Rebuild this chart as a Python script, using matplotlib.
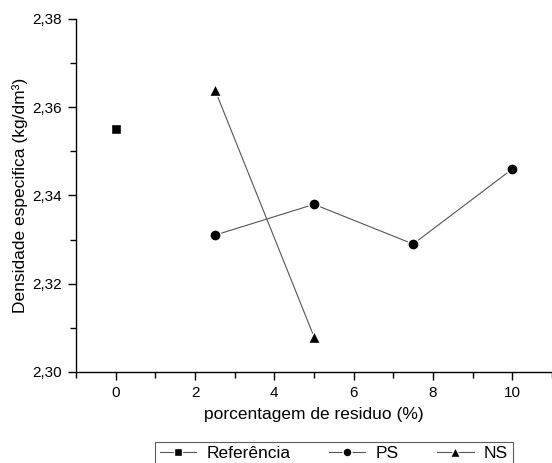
import matplotlib
matplotlib.use('Agg')
import matplotlib.pyplot as plt
from matplotlib.ticker import MultipleLocator, FuncFormatter

# data
ref_x = [0]
ref_y = [2.355]
ps_x = [2.5, 5, 7.5, 10]
ps_y = [2.331, 2.338, 2.329, 2.346]
ns_x = [2.5, 5]
ns_y = [2.364, 2.308]

plt.rcParams['font.family'] = ['Liberation Sans', 'DejaVu Sans']

fig = plt.figure(figsize=(5.52, 4.63), dpi=100)
ax = fig.add_axes([76 / 552, 91 / 463, 1 - 76 / 552, 353 / 463])

line_kw = dict(color='#555555', lw=0.8, mfc='black', mec='white', mew=1.0)
ax.plot(ref_x, ref_y, marker='s', ms=7, label='Referência', **line_kw)
ax.plot(ps_x, ps_y, marker='o', ms=8, label='PS', **line_kw)
ax.plot(ns_x, ns_y, marker='^', ms=8.5, label='NS', **line_kw)

ax.set_xlim(-1, 11)
ax.set_ylim(2.30, 2.38)
ax.xaxis.set_major_locator(MultipleLocator(2))
ax.xaxis.set_minor_locator(MultipleLocator(1))
ax.yaxis.set_major_locator(MultipleLocator(0.02))
ax.yaxis.set_minor_locator(MultipleLocator(0.01))
ax.yaxis.set_major_formatter(FuncFormatter(lambda v, p: ('%.2f' % v).replace('.', ',')))

for s in ['top', 'right']:
    ax.spines[s].set_visible(False)
for s in ['left', 'bottom']:
    ax.spines[s].set_linewidth(1.0)
ax.tick_params(which='major', direction='out', length=6, width=1, labelsize=11, pad=4)
ax.tick_params(which='minor', direction='out', length=4, width=1)

ax.set_xlabel('porcentagem de residuo (%)', fontsize=12.5, labelpad=5)
ax.set_ylabel('Densidade especifica (kg/dm³)', fontsize=12.5, labelpad=3)

leg = fig.legend(loc='upper center', bbox_to_anchor=(334 / 552, 1 - 442 / 463),
                 ncol=3, fontsize=12.5, frameon=True, fancybox=False,
                 handlelength=2.1, columnspacing=2.2, borderpad=0.25,
                 handletextpad=0.6, borderaxespad=0, markerscale=0.8)
leg.get_frame().set_edgecolor('#333333')
leg.get_frame().set_linewidth(0.8)

fig.savefig('out.png', dpi=100)
